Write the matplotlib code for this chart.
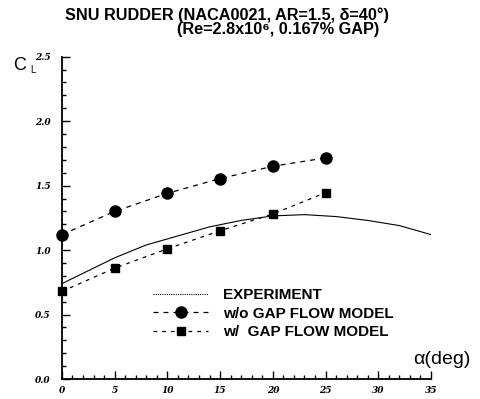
import numpy as np
import matplotlib
matplotlib.use("Agg")
import matplotlib.pyplot as plt
from matplotlib.ticker import MultipleLocator
from matplotlib.lines import Line2D

plt.rcParams['font.family'] = ['Liberation Sans', 'DejaVu Sans']

# experiment curve
exp_alpha = [0, 2, 5, 8, 11, 14, 17, 20, 23, 26, 29, 32, 35]
exp_cl = [0.74, 0.82, 0.94, 1.04, 1.11, 1.18, 1.23, 1.265, 1.275, 1.26, 1.23, 1.19, 1.12]

# computed points
alpha = [0, 5, 10, 15, 20, 25]
cl_no_gap = [1.12, 1.30, 1.44, 1.555, 1.65, 1.715]
cl_gap = [0.68, 0.86, 1.01, 1.15, 1.28, 1.445]

fig = plt.figure(figsize=(4.8, 3.99), dpi=100)
ax = fig.add_axes([0.129, 0.05, 0.769, 0.808])

ax.plot(exp_alpha, exp_cl, color='black', lw=0.8)
ax.plot(alpha, cl_no_gap, color='black', lw=0.9, ls=(0, (4, 4)), marker='o', ms=8,
        clip_on=False)
ax.plot(alpha, cl_gap, color='black', lw=0.9, ls=(0, (3, 4)), marker='s', ms=6,
        clip_on=False)

ax.set_xlim(0, 35)
ax.set_ylim(0, 2.5)
ax.xaxis.set_major_locator(MultipleLocator(5))
ax.xaxis.set_minor_locator(MultipleLocator(1))
ax.yaxis.set_major_locator(MultipleLocator(0.5))
ax.yaxis.set_minor_locator(MultipleLocator(0.1))
ax.tick_params(which='both', direction='in', width=1)
ax.tick_params(which='major', length=6)
ax.tick_params(which='minor', length=3)
ax.spines['top'].set_visible(False)
ax.spines['right'].set_visible(False)
ax.spines['left'].set_linewidth(1.3)
ax.spines['bottom'].set_linewidth(1.3)

ax.set_xticks([0, 5, 10, 15, 20, 25, 30, 35])
ax.set_xticklabels([str(v) for v in range(0, 40, 5)], family='DejaVu Serif',
                   style='italic', fontweight='bold', fontsize=6.5)
ax.set_yticks([0, 0.5, 1.0, 1.5, 2.0, 2.5])
ax.set_yticklabels(['0.0', '0.5', '1.0', '1.5', '2.0', '2.5'], family='DejaVu Serif',
                   style='italic', fontweight='bold', fontsize=6.5)
ax.tick_params(axis='y', pad=8)
ax.tick_params(axis='x', pad=5)

fig.text(0.472, 0.963, 'SNU RUDDER (NACA0021, AR=1.5, \u03b4=40\u00b0)',
         ha='center', va='center', fontsize=11.7, fontweight='bold')
fig.text(0.58, 0.926, '(Re=2.8x10\u2076, 0.167% GAP)',
         ha='center', va='center', fontsize=11.7, fontweight='bold')
fig.text(0.028, 0.837, 'C', ha='left', va='center', fontsize=13)
fig.text(0.062, 0.824, 'L', ha='left', va='center', fontsize=7)
fig.text(0.86, 0.098, '\u03b1(deg)', ha='left', va='center', fontsize=14)

handles = [
    Line2D([], [], color='black', lw=0.8, ls=(0, (1, 1))),
    Line2D([], [], color='black', lw=0.9, ls=(0, (4, 4)), marker='o', ms=8),
    Line2D([], [], color='black', lw=0.9, ls=(0, (3, 4)), marker='s', ms=6),
]
labels = ['EXPERIMENT', 'w/o GAP FLOW MODEL', 'w/  GAP FLOW MODEL']
ax.legend(handles, labels, loc='upper left', bbox_to_anchor=(0.21, 0.325),
          frameon=False, handlelength=3.6, labelspacing=0.3, handletextpad=1.0,
          prop={'weight': 'bold', 'size': 11})

fig.savefig('out.png', dpi=100)
